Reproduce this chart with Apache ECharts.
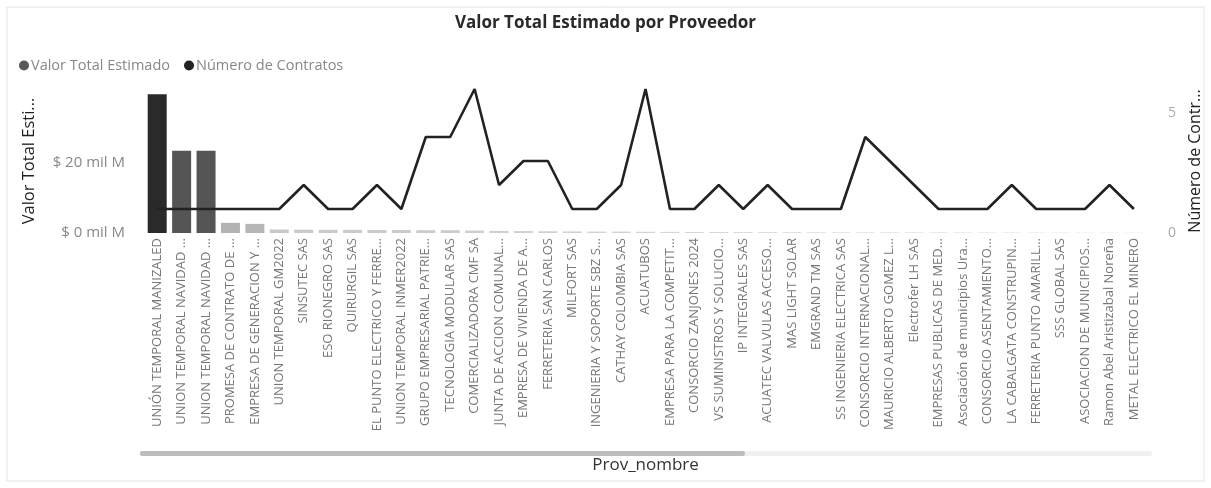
<!DOCTYPE html>
<html>
<head>
<meta charset="utf-8">
<script src="https://cdn.jsdelivr.net/npm/echarts@6/dist/echarts.min.js"></script>
<style>
html,body{margin:0;padding:0;background:#fff;}
#chart{width:1211px;height:488px;}
</style>
</head>
<body>
<div id="chart"></div>
<script>
const categories = [
  "UNIÓN TEMPORAL MANIZALED",
  "UNION TEMPORAL NAVIDAD ...",
  "UNION TEMPORAL NAVIDAD ...",
  "PROMESA DE CONTRATO DE ...",
  "EMPRESA DE GENERACION Y ...",
  "UNION TEMPORAL GM2022",
  "SINSUTEC SAS",
  "ESO RIONEGRO SAS",
  "QUIRURGIL SAS",
  "EL PUNTO ELECTRICO Y FERRE...",
  "UNION TEMPORAL INMER2022",
  "GRUPO EMPRESARIAL PATRIE...",
  "TECNOLOGIA MODULAR SAS",
  "COMERCIALIZADORA CMF SA",
  "JUNTA DE ACCION COMUNAL...",
  "EMPRESA DE VIVIENDA DE A...",
  "FERRETERIA SAN CARLOS",
  "MILFORT SAS",
  "INGENIERIA Y SOPORTE SBZ S...",
  "CATHAY COLOMBIA SAS",
  "ACUATUBOS",
  "EMPRESA PARA LA COMPETIT...",
  "CONSORCIO ZANJONES 2024",
  "VS SUMINISTROS Y SOLUCIO...",
  "IP INTEGRALES SAS",
  "ACUATEC VALVULAS ACCESO...",
  "MAS LIGHT SOLAR",
  "EMGRAND TM SAS",
  "SS INGENIERIA ELECTRICA SAS",
  "CONSORCIO INTERNACIONAL...",
  "MAURICIO ALBERTO GOMEZ L...",
  "Electrofer LH SAS",
  "EMPRESAS PUBLICAS DE MED...",
  "Asociación de municipios Ura...",
  "CONSORCIO ASENTAMIENTO...",
  "LA CABALGATA CONSTRUPIN...",
  "FERRETERIA PUNTO AMARILL...",
  "SSS GLOBAL SAS",
  "ASOCIACION DE MUNICIPIOS...",
  "Ramon Abel Aristizabal Noreña",
  "METAL ELECTRICO EL MINERO"
];

// Valor Total Estimado, in "mil M"
const valorTotal = [
  39.5, 23.4, 23.4, 2.9, 2.6, 1.0, 0.95, 0.9, 0.9, 0.85,
  0.85, 0.8, 0.8, 0.7, 0.6, 0.55, 0.5, 0.45, 0.4, 0.4,
  0.35, 0.32, 0.3, 0.28, 0.26, 0.24, 0.22, 0.2, 0.19, 0.18,
  0.17, 0.16, 0.15, 0.14, 0.13, 0.12, 0.11, 0.1, 0.09, 0.08, 0.07
];

// Número de Contratos
const numContratos = [
  1, 1, 1, 1, 1, 1, 2, 1, 1, 2,
  1, 4, 4, 6, 2, 3, 3, 1, 1, 2,
  6, 1, 1, 2, 1, 2, 1, 1, 1, 4,
  3, 2, 1, 1, 1, 2, 1, 1, 1, 2, 1
];

const leftTicks = [0, 20];
const rightTicks = [0, 5];

const FONT = '"Open Sans", "Noto Sans", sans-serif';
const maxVal = Math.max.apply(null, valorTotal);
function barColor(v) {
  const t = Math.sqrt(v / maxVal);
  const g = Math.round(230 - t * (230 - 42));
  return 'rgb(' + g + ',' + g + ',' + g + ')';
}

const chart = echarts.init(document.getElementById('chart'), null, {renderer: 'canvas'});
chart.setOption({
  animation: false,
  backgroundColor: '#ffffff',
  textStyle: {fontFamily: FONT},
  title: {
    text: 'Valor Total Estimado por Proveedor',
    left: 'center',
    top: 10,
    textStyle: {fontFamily: FONT, fontSize: 17, fontWeight: 'bold', color: '#2a2a2a'}
  },
  legend: {
    left: 14,
    top: 53,
    icon: 'circle',
    itemWidth: 10,
    itemHeight: 10,
    itemGap: 14,
    textStyle: {fontFamily: FONT, fontSize: 14.5, color: '#888', padding: [0, 0, 0, -3]},
    data: [
      {name: 'Valor Total Estimado', itemStyle: {color: '#5a5a5a'}},
      {name: 'Número de Contratos', itemStyle: {color: '#222'}}
    ]
  },
  grid: {left: 145, right: 57, top: 89, bottom: 255, containLabel: false},
  xAxis: {
    type: 'category',
    data: categories,
    boundaryGap: true,
    name: 'Prov_nombre',
    nameLocation: 'middle',
    nameGap: 224,
    nameTextStyle: {fontFamily: FONT, fontSize: 17, color: '#333'},
    axisLine: {show: false},
    axisTick: {show: false},
    axisLabel: {
      interval: 0,
      rotate: 90,
      margin: 5,
      fontFamily: FONT,
      fontSize: 13,
      color: '#777'
    }
  },
  yAxis: [
    {
      type: 'value',
      min: 0,
      max: 41,
      interval: 20,
      position: 'left',
      name: 'Valor Total Esti...',
      nameLocation: 'middle',
      nameRotate: 90,
      nameGap: 107,
      nameTextStyle: {fontFamily: FONT, fontSize: 16.5, color: '#222'},
      axisLine: {show: false},
      axisTick: {show: false},
      splitLine: {show: false},
      axisLabel: {
        margin: 20,
        fontFamily: FONT,
        fontSize: 15,
        color: '#888',
        showMaxLabel: false,
        formatter: function (v) { return leftTicks.indexOf(v) >= 0 ? '$ ' + v + ' mil M' : ''; }
      }
    },
    {
      type: 'value',
      min: 0,
      max: 6,
      interval: 5,
      position: 'right',
      name: 'Número de Contr...',
      nameLocation: 'middle',
      nameRotate: 90,
      nameGap: 38,
      nameTextStyle: {fontFamily: FONT, fontSize: 16, color: '#222'},
      axisLine: {show: false},
      axisTick: {show: false},
      splitLine: {show: false},
      axisLabel: {
        margin: 22,
        fontFamily: FONT,
        fontSize: 14,
        color: '#aaa',
        showMaxLabel: false,
        formatter: function (v) { return rightTicks.indexOf(v) >= 0 ? String(v) : ''; }
      }
    }
  ],
  series: [
    {
      name: 'Valor Total Estimado',
      type: 'bar',
      yAxisIndex: 0,
      barWidth: 19,
      data: valorTotal.map(function (v) {
        return {value: v, itemStyle: {color: barColor(v)}};
      })
    },
    {
      name: 'Número de Contratos',
      type: 'line',
      yAxisIndex: 1,
      data: numContratos,
      symbol: 'none',
      lineStyle: {color: '#222', width: 2.6},
      itemStyle: {color: '#222'}
    }
  ],
  graphic: [
    {type: 'rect', shape: {x: 7, y: 7, width: 1197, height: 474}, style: {fill: 'none', stroke: '#e2e2e2', lineWidth: 1}, silent: true},
    {type: 'rect', shape: {x: 140, y: 451, width: 1012, height: 5, r: 2}, style: {fill: '#f0f0f0'}, silent: true},
    {type: 'rect', shape: {x: 140, y: 451, width: 605, height: 5, r: 2}, style: {fill: '#bdbdbd'}, silent: true}
  ]
});
</script>
</body>
</html>
